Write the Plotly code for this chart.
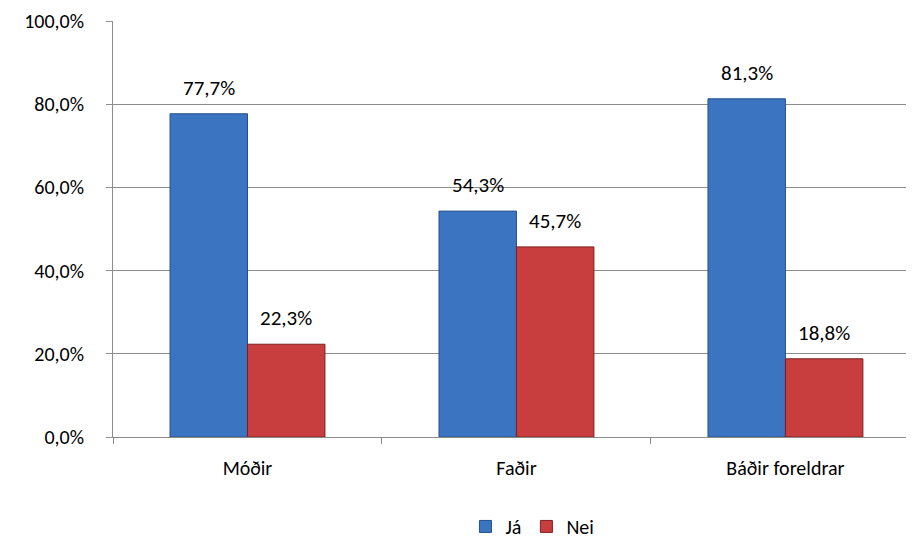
import plotly.graph_objects as go

categories = ["Móðir", "Faðir", "Báðir foreldrar"]
ja_values = [0.777, 0.543, 0.813]
nei_values = [0.223, 0.457, 0.188]
series_names = ["Já", "Nei"]
y_ticks = [0, 0.2, 0.4, 0.6, 0.8, 1.0]

font_family = "Carlito, Lato, 'Open Sans', sans-serif"
bargap = 0.424

fig = go.Figure()
fig.add_trace(go.Bar(
    x=categories, y=ja_values, name=series_names[0],
    marker=dict(color="#3b74c0", line=dict(color="#26508c", width=1)),
))
fig.add_trace(go.Bar(
    x=categories, y=nei_values, name=series_names[1],
    marker=dict(color="#c83d3d", line=dict(color="#7e2020", width=1)),
))

# data labels, placed above each bar's centre
half = (1 - bargap) / 4
for i, (a, b) in enumerate(zip(ja_values, nei_values)):
    for xv, yv in ((i - half, a), (i + half, b)):
        fig.add_annotation(
            x=xv, y=yv, xref="x", yref="y",
            text=f"{yv * 100:.1f}%".replace(".", ","),
            showarrow=False, yanchor="middle", yshift=26,
            font=dict(size=21, color="#000000"),
        )

fig.update_layout(
    width=906, height=531,
    margin=dict(l=105, r=0, t=13, b=102, autoexpand=False),
    paper_bgcolor="white", plot_bgcolor="white",
    separators=",.",
    barmode="group", bargap=bargap, bargroupgap=0,
    font=dict(family=font_family, size=20, color="#000000"),
    legend=dict(orientation="h", x=0.44, xanchor="left", y=-0.215, yanchor="middle",
                font=dict(size=20), itemwidth=30, traceorder="normal"),
    showlegend=True,
)
fig.update_yaxes(
    range=[0, 1.0], tickvals=y_ticks, tickformat=".1%",
    showgrid=True, gridcolor="#8c8c8c", gridwidth=1,
    showline=True, linecolor="#8c8c8c", linewidth=1,
    ticks="outside", ticklen=6, tickcolor="#8c8c8c",
    ticklabelstandoff=18,
    zeroline=False, tickfont=dict(size=20), automargin=False,
)
fig.update_xaxes(
    range=[-0.5, 2.478],
    showline=True, linecolor="#8c8c8c", linewidth=1,
    ticks="outside", ticklen=6, tickcolor="#8c8c8c", tickson="boundaries",
    ticklabelstandoff=13,
    tickfont=dict(size=20), automargin=False,
)

fig.write_html("out.html")
